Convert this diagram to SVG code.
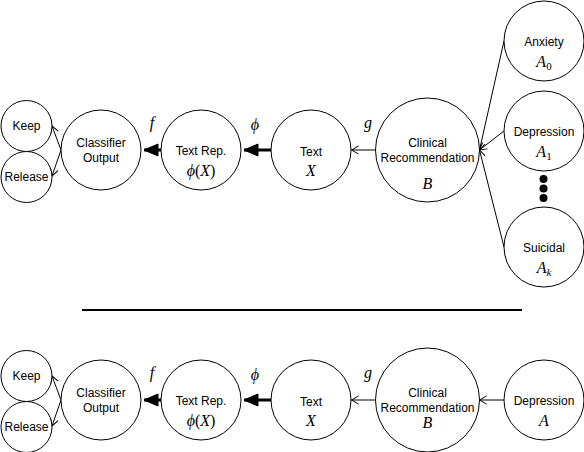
<svg xmlns="http://www.w3.org/2000/svg" width="584" height="452" viewBox="0 0 584 452">
<style>
  .n { fill: #ffffff; stroke: #000000; stroke-width: 1; }
  .t { font-family: "Liberation Sans", Arial, sans-serif; font-size: 12px; fill: #000; text-anchor: middle; }
  .m { font-family: "Liberation Serif", "Times New Roman", serif; font-size: 16px; font-style: italic; fill: #000; text-anchor: middle; }
  .up { font-style: normal; }
  .e { fill: none; stroke: #000; stroke-width: 1; }
  .thick { fill: none; stroke: #000; stroke-width: 3; }
</style>
<defs>
  <marker id="open" markerUnits="userSpaceOnUse" orient="auto" refX="0" refY="0" markerWidth="10" markerHeight="10" overflow="visible">
    <path d="M-7,-4 L0,0 L-7,4" fill="none" stroke="#000" stroke-width="1"/>
  </marker>
  <marker id="block" markerUnits="userSpaceOnUse" orient="auto" refX="0" refY="0" markerWidth="16" markerHeight="14" overflow="visible">
    <path d="M-14,-6 L0,0 L-14,6 Z" fill="#000" stroke="#000" stroke-width="1"/>
  </marker>
</defs>

<g id="connectors">
  <line class="e" x1="61" y1="150" x2="52" y2="126" marker-end="url(#open)"/>
  <line class="e" x1="61" y1="150" x2="52" y2="176" marker-end="url(#open)"/>
  <line class="thick" x1="161" y1="150" x2="144" y2="150" marker-end="url(#block)"/>
  <line class="thick" x1="271" y1="150" x2="244" y2="150" marker-end="url(#block)"/>
  <line class="e" x1="375.5" y1="150" x2="351.5" y2="150" marker-end="url(#open)"/>
  <line class="e" x1="504" y1="41" x2="479.5" y2="150" marker-end="url(#open)"/>
  <line class="e" x1="504" y1="131" x2="479.5" y2="150" marker-end="url(#open)"/>
  <line class="e" x1="504" y1="247" x2="479.5" y2="150" marker-end="url(#open)"/>

  <line class="e" x1="61" y1="400" x2="52" y2="376" marker-end="url(#open)"/>
  <line class="e" x1="61" y1="400" x2="52" y2="426" marker-end="url(#open)"/>
  <line class="thick" x1="161" y1="400" x2="144" y2="400" marker-end="url(#block)"/>
  <line class="thick" x1="271" y1="400" x2="244" y2="400" marker-end="url(#block)"/>
  <line class="e" x1="375.5" y1="400" x2="351.5" y2="400" marker-end="url(#open)"/>
  <line class="e" x1="504" y1="400" x2="479.5" y2="400" marker-end="url(#open)"/>
</g>

<g id="edge-labels">
  <text class="m" x="152" y="128">f</text>
  <text class="m" x="255" y="130">ϕ</text>
  <text class="m" x="368" y="128">g</text>
  <text class="m" x="152" y="378">f</text>
  <text class="m" x="255" y="380">ϕ</text>
  <text class="m" x="368" y="378">g</text>
</g>

<line id="separator" x1="82" y1="310" x2="522" y2="310" stroke="#000" stroke-width="2"/>

<!-- top row -->
<g id="keep-top">
  <circle class="n" cx="26.5" cy="126" r="25.5"/>
  <text class="t" x="26.5" y="130">Keep</text>
</g>
<g id="release-top">
  <circle class="n" cx="26.5" cy="177" r="25.5"/>
  <text class="t" x="26.5" y="181">Release</text>
</g>
<g id="classifier-top">
  <circle class="n" cx="101" cy="150" r="40"/>
  <text class="t" x="101" y="147">Classifier</text>
  <text class="t" x="101" y="162">Output</text>
</g>
<g id="textrep-top">
  <circle class="n" cx="201" cy="150" r="40"/>
  <text class="t" x="201" y="155">Text Rep.</text>
  <text class="m" x="201" y="176">ϕ<tspan class="up">(</tspan>X<tspan class="up">)</tspan></text>
</g>
<g id="text-top">
  <circle class="n" cx="311" cy="150" r="40"/>
  <text class="t" x="311" y="156">Text</text>
  <text class="m" x="311" y="176">X</text>
</g>
<g id="clinical-top">
  <circle class="n" cx="427.5" cy="150" r="52"/>
  <text class="t" x="427.5" y="147">Clinical</text>
  <text class="t" x="427.5" y="162">Recommendation</text>
  <text class="m" x="427.5" y="189">B</text>
</g>
<g id="anxiety">
  <circle class="n" cx="544" cy="41" r="40"/>
  <text class="t" x="544" y="46">Anxiety</text>
  <text class="m" x="544" y="67">A<tspan class="up" font-size="11" dy="3">0</tspan></text>
</g>
<g id="depression-top">
  <circle class="n" cx="544" cy="131" r="40"/>
  <text class="t" x="544" y="136">Depression</text>
  <text class="m" x="544" y="157">A<tspan class="up" font-size="11" dy="3">1</tspan></text>
</g>
<g id="dots">
  <circle cx="543.5" cy="179" r="4" fill="#000"/>
  <circle cx="543.5" cy="188.5" r="4" fill="#000"/>
  <circle cx="543.5" cy="198" r="4" fill="#000"/>
</g>
<g id="suicidal">
  <circle class="n" cx="544" cy="247" r="40"/>
  <text class="t" x="544" y="252">Suicidal</text>
  <text class="m" x="544" y="273">A<tspan font-size="11" dy="3">k</tspan></text>
</g>

<!-- bottom row -->
<g id="keep-bottom">
  <circle class="n" cx="26.5" cy="376" r="25.5"/>
  <text class="t" x="26.5" y="380">Keep</text>
</g>
<g id="release-bottom">
  <circle class="n" cx="26.5" cy="427" r="25.5"/>
  <text class="t" x="26.5" y="431">Release</text>
</g>
<g id="classifier-bottom">
  <circle class="n" cx="101" cy="400" r="40"/>
  <text class="t" x="101" y="397">Classifier</text>
  <text class="t" x="101" y="412">Output</text>
</g>
<g id="textrep-bottom">
  <circle class="n" cx="201" cy="400" r="40"/>
  <text class="t" x="201" y="405">Text Rep.</text>
  <text class="m" x="201" y="426">ϕ<tspan class="up">(</tspan>X<tspan class="up">)</tspan></text>
</g>
<g id="text-bottom">
  <circle class="n" cx="311" cy="400" r="40"/>
  <text class="t" x="311" y="406">Text</text>
  <text class="m" x="311" y="426">X</text>
</g>
<g id="clinical-bottom">
  <circle class="n" cx="427.5" cy="400" r="52"/>
  <text class="t" x="427.5" y="397">Clinical</text>
  <text class="t" x="427.5" y="412">Recommendation</text>
  <text class="m" x="427.5" y="428">B</text>
</g>
<g id="depression-bottom">
  <circle class="n" cx="544" cy="400" r="40"/>
  <text class="t" x="544" y="405">Depression</text>
  <text class="m" x="544" y="426">A</text>
</g>
</svg>
